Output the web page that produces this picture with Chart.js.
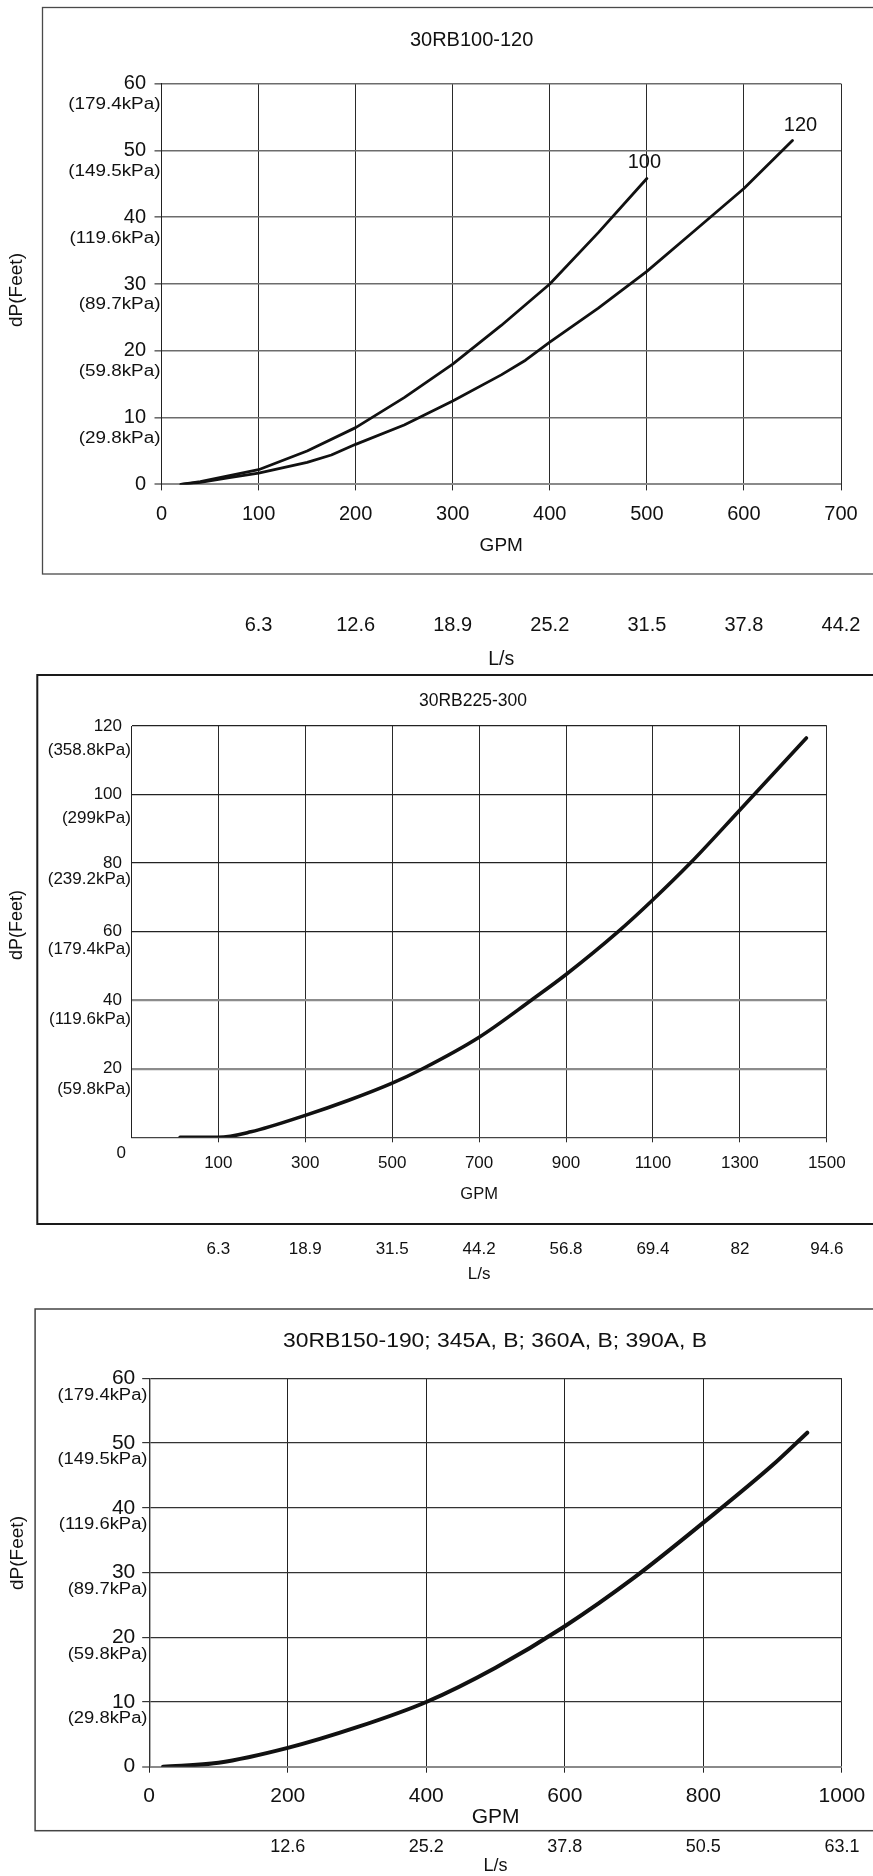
<!DOCTYPE html>
<html>
<head>
<meta charset="utf-8">
<script src="https://cdn.jsdelivr.net/npm/chart.js@4.4.1/dist/chart.umd.min.js"></script>
<style>
  html, body { margin: 0; padding: 0; background: #fff; }
  body { width: 873px; height: 1876px; position: relative; overflow: hidden; }
  canvas { position: absolute; left: 0; }
</style>
</head>
<body>
<canvas id="c1" width="873" height="675" style="top:0px"></canvas>
<canvas id="c2" width="873" height="630" style="top:660px"></canvas>
<canvas id="c3" width="873" height="586" style="top:1290px"></canvas>
<script>
// ---------- 30RB100-120 : pressure drop (ft) against flow (GPM) ----------
const gpm100 = [20, 40, 70, 100, 150, 200, 250, 300, 350, 400, 450, 500];
const dp100  = [0, 0.4, 1.3, 2.2, 5.0, 8.5, 13.0, 18.0, 23.8, 30.0, 37.7, 45.8];
const gpm120 = [20, 40, 70, 100, 150, 175, 200, 250, 300, 350, 375, 400, 450, 500, 550, 600, 650];
const dp120  = [0, 0.3, 1.0, 1.7, 3.3, 4.4, 6.0, 8.9, 12.5, 16.4, 18.6, 21.3, 26.4, 31.9, 38.1, 44.3, 51.5];
const gpmTicks1 = [0, 100, 200, 300, 400, 500, 600, 700];
const lsAt1     = [100, 200, 300, 400, 500, 600, 700];
const lsLabels1 = ['6.3', '12.6', '18.9', '25.2', '31.5', '37.8', '44.2'];
const ftTicks1  = [0, 10, 20, 30, 40, 50, 60];
const kpaLabels1 = ['', '(29.8kPa)', '(59.8kPa)', '(89.7kPa)', '(119.6kPa)', '(149.5kPa)', '(179.4kPa)'];

// ---------- 30RB225-300 ----------
const gpm225 = [12, 100, 175, 300, 400, 500, 570, 700, 820, 900, 1020, 1100, 1186, 1300, 1453];
const dp225  = [0, 0, 1.6, 6.4, 10.8, 15.8, 20, 29.2, 40, 47.5, 60, 69.3, 80, 95.5, 116.5];
const gpmTicks2 = [100, 300, 500, 700, 900, 1100, 1300, 1500];
const lsLabels2 = ['6.3', '18.9', '31.5', '44.2', '56.8', '69.4', '82', '94.6'];
const ftTicks2  = [0, 20, 40, 60, 80, 100, 120];
const kpaLabels2 = ['', '(59.8kPa)', '(119.6kPa)', '(179.4kPa)', '(239.2kPa)', '(299kPa)', '(358.8kPa)'];

// ---------- 30RB150-190; 345A, B; 360A, B; 390A, B ----------
const gpm150 = [20, 100, 200, 300, 400, 500, 600, 700, 800, 900, 950];
const dp150  = [0, 0.6, 2.9, 6.1, 10.0, 15.3, 21.7, 29.2, 37.7, 46.6, 51.6];
const gpmTicks3 = [0, 200, 400, 600, 800, 1000];
const lsAt3     = [200, 400, 600, 800, 1000];
const lsLabels3 = ['12.6', '25.2', '37.8', '50.5', '63.1'];
const ftTicks3  = [0, 10, 20, 30, 40, 50, 60];
const kpaLabels3 = ['', '(29.8kPa)', '(59.8kPa)', '(89.7kPa)', '(119.6kPa)', '(149.5kPa)', '(179.4kPa)'];

const FONT = "'Liberation Sans', Arial, Helvetica, sans-serif";
const INK = '#111';

// text helper: optional rotation and horizontal stretch
function putText(ctx, text, x, y, size, o = {}) {
  ctx.save();
  ctx.font = size + 'px ' + FONT;
  ctx.fillStyle = o.color || INK;
  ctx.textAlign = o.align || 'center';
  ctx.textBaseline = 'middle';
  ctx.translate(x, y);
  if (o.rotate) ctx.rotate(o.rotate);
  ctx.scale(o.sx || 1, 1);
  ctx.fillText(text, 0, 0);
  ctx.restore();
}

// frame, heading, axis caption, kPa sub-labels and curve names
const decor = {
  id: 'decor',
  afterDraw(chart, args, o) {
    const ctx = chart.ctx;
    const ys = chart.scales.y;
    const f = o.frame;
    ctx.save();
    ctx.strokeStyle = f.color;
    ctx.lineWidth = f.width;
    ctx.strokeRect(f.left, f.top, 1200, f.bottom - f.top);
    ctx.restore();

    putText(ctx, o.title.text, o.title.x, o.title.y, o.title.size, { sx: o.title.sx });
    putText(ctx, 'dP(Feet)', o.yTitle.x, o.yTitle.y, o.yTitle.size, { rotate: -Math.PI / 2 });

    const k = o.kpa;
    k.values.forEach((v, i) => {
      const t = k.labels[i];
      if (!t) return;
      const dy = Array.isArray(k.dy) ? k.dy[i] : k.dy;
      putText(ctx, t, ys.right + k.dx, ys.getPixelForValue(v) + dy, k.size, { align: 'right', sx: k.sx });
    });

    (o.valueNotes || []).forEach(n => {
      putText(ctx, n.text, ys.right + n.dx, ys.getPixelForValue(n.value) + n.dy, n.size, { align: 'right' });
    });

    (o.seriesNames || []).forEach(n => {
      const pts = chart.getDatasetMeta(n.dataset).data;
      const p = pts[pts.length - 1];
      putText(ctx, n.text, p.x + n.dx, p.y + n.dy, n.size);
    });
  }
};

// s.rows holds the vertical centres of the bottom texts, in canvas pixels
function build(id, s) {
  const canvas = document.getElementById(id);
  const W = canvas.width, H = canvas.height;
  const a = s.area, r = s.rows;
  const tickPad = 3, lsTickPad = 2;
  const gpmLH = s.gpmFont * 1.2;
  const lsTitleLH = s.lsTitleFont * (s.lsTitleLH || 1.2);
  const h1 = r.gpm + gpmLH / 2 + 1.5 - a.bottom;
  const h2 = H - s.padBottom - a.bottom - h1;
  const xLabelLH = 2 * (r.xLabels - a.bottom - s.xTickLen - tickPad);
  const lsLabelLH = 2 * (r.lsLabels - (a.bottom + h1) - lsTickPad);

  return new Chart(canvas, {
    type: 'line',
    data: {
      datasets: s.series.map(ser => ({
        data: ser.x.map((g, i) => ({ x: g, y: ser.y[i] })),
        borderColor: INK,
        borderWidth: s.lineWidth,
        pointRadius: 0,
        fill: false,
        tension: 0,
        cubicInterpolationMode: s.smooth ? 'monotone' : 'default',
        borderCapStyle: 'round',
        borderJoinStyle: 'round'
      }))
    },
    options: {
      responsive: false,
      animation: false,
      devicePixelRatio: 1,
      events: [],
      layout: {
        padding: { left: 0, top: a.top, right: W - a.right, bottom: s.padBottom }
      },
      plugins: {
        legend: { display: false },
        tooltip: { enabled: false },
        decor: s.decor
      },
      scales: {
        x: {
          type: 'linear', position: 'bottom', weight: 0,
          min: s.xMin, max: s.xMax,
          afterBuildTicks: sc => { sc.ticks = s.xTicks.map(v => ({ value: v })); },
          afterFit: sc => { sc.height = h1; },
          ticks: {
            callback: v => String(v),
            font: { family: FONT, size: s.xFont, lineHeight: xLabelLH + 'px' }, color: INK,
            padding: tickPad, maxRotation: 0, autoSkip: false
          },
          grid: {
            color: s.vGrid.color, lineWidth: s.vGrid.width,
            tickLength: s.xTickLen, drawTicks: s.xTickLen > 0
          },
          border: { display: false },
          title: {
            display: true, text: 'GPM', color: INK,
            font: { family: FONT, size: s.gpmFont, lineHeight: 1.2 },
            padding: { top: 0, bottom: a.bottom + h1 - gpmLH / 2 - r.gpm }
          }
        },
        ls: {
          type: 'linear', position: 'bottom', weight: 1,
          min: s.xMin, max: s.xMax,
          afterBuildTicks: sc => { sc.ticks = s.lsAt.map(v => ({ value: v })); },
          afterFit: sc => { sc.height = h2; },
          ticks: {
            callback: (v, i) => s.lsLabels[i],
            font: { family: FONT, size: s.lsFont, lineHeight: lsLabelLH + 'px' }, color: INK,
            padding: lsTickPad, maxRotation: 0, autoSkip: false
          },
          grid: { display: false, drawTicks: false },
          border: { display: false },
          title: {
            display: true, text: 'L/s', color: INK,
            font: { family: FONT, size: s.lsTitleFont, lineHeight: s.lsTitleLH || 1.2 },
            padding: { top: 0, bottom: a.bottom + h1 + h2 - lsTitleLH / 2 - r.lsTitle }
          }
        },
        y: {
          type: 'linear', position: 'left',
          min: s.yMin, max: s.yMax,
          afterBuildTicks: sc => { sc.ticks = s.yTicks.map(v => ({ value: v })); },
          afterFit: sc => { sc.width = a.left; },
          ticks: {
            callback: v => (s.hideZero && v === 0) ? '' : String(v),
            font: { family: FONT, size: s.yFont }, color: INK,
            padding: s.yPad
          },
          grid: {
            color: c => s.hGrid(c.tick.value).color,
            lineWidth: c => s.hGrid(c.tick.value).width,
            tickLength: s.yTickLen, drawTicks: s.yTickLen > 0
          },
          border: { display: true, color: s.axisColor, width: s.axisWidth }
        }
      }
    },
    plugins: [decor]
  });
}

// 30RB100-120
build('c1', {
  series: [{ x: gpm100, y: dp100 }, { x: gpm120, y: dp120 }],
  lineWidth: 2.8, smooth: false,
  area: { left: 161.5, top: 83.7, right: 841, bottom: 484.4 },
  rows: { xLabels: 514.2, gpm: 546, lsLabels: 625.5, lsTitle: 660 },
  padBottom: 1,
  xMin: 0, xMax: 700, xTicks: gpmTicks1, xFont: 20, xTickLen: 6,
  gpmFont: 19,
  lsAt: lsAt1, lsLabels: lsLabels1, lsFont: 20, lsTitleFont: 19.5,
  yMin: 0, yMax: 60, yTicks: ftTicks1, yFont: 20, yPad: 8.5, yTickLen: 7,
  vGrid: { color: '#2a2a2a', width: 1 },
  hGrid: v => v === 0 ? { color: '#8a8a8a', width: 2 } : { color: '#6c6c6c', width: 1.6 },
  axisColor: '#222', axisWidth: 1,
  decor: {
    frame: { left: 42.5, top: 7.5, bottom: 574, color: '#4a4a4a', width: 1.3 },
    title: { text: '30RB100-120', x: 471.6, y: 40, size: 20, sx: 1 },
    yTitle: { x: 16.5, y: 290, size: 19 },
    kpa: { values: ftTicks1, labels: kpaLabels1, dx: -1, dy: 21, size: 16, sx: 1.18 },
    seriesNames: [
      { dataset: 0, text: '100', dx: -2.5, dy: -16, size: 20 },
      { dataset: 1, text: '120', dx: 8, dy: -14.7, size: 20 }
    ]
  }
});

// 30RB225-300
build('c2', {
  series: [{ x: gpm225, y: dp225 }],
  lineWidth: 3.6, smooth: true,
  area: { left: 131.4, top: 66, right: 826.8, bottom: 477.3 },
  rows: { xLabels: 503.3, gpm: 534.5, lsLabels: 589.3, lsTitle: 614 },
  padBottom: 1,
  xMin: -100, xMax: 1500, xTicks: gpmTicks2, xFont: 17, xTickLen: 5,
  gpmFont: 16.5,
  lsAt: gpmTicks2, lsLabels: lsLabels2, lsFont: 17, lsTitleFont: 17,
  yMin: 0, yMax: 120, yTicks: ftTicks2, yFont: 17, yPad: 9.4, yTickLen: 0, hideZero: true,
  vGrid: { color: '#2a2a2a', width: 1 },
  hGrid: v => v === 0 ? { color: '#444', width: 1.2 }
             : (v <= 40 ? { color: '#8c8c8c', width: 2.2 } : { color: '#222', width: 1.3 }),
  axisColor: '#222', axisWidth: 1,
  decor: {
    frame: { left: 37.3, top: 15, bottom: 564, color: '#1a1a1a', width: 2 },
    title: { text: '30RB225-300', x: 473, y: 40.7, size: 17.5, sx: 1 },
    yTitle: { x: 16.7, y: 265, size: 18 },
    kpa: { values: ftTicks2, labels: kpaLabels2, dx: -0.5, dy: [0, 21, 19, 18, 16, 24, 24], size: 17, sx: 1 },
    valueNotes: [{ text: '0', value: 0, dx: -5.5, dy: 16, size: 17 }]
  }
});

// 30RB150-190; 345A, B; 360A, B; 390A, B
build('c3', {
  series: [{ x: gpm150, y: dp150 }],
  lineWidth: 4, smooth: true,
  area: { left: 149.2, top: 88.3, right: 841.9, bottom: 476.7 },
  rows: { xLabels: 506.7, gpm: 527.3, lsLabels: 556.7, lsTitle: 576 },
  padBottom: 0.5,
  xMin: 0, xMax: 1000, xTicks: gpmTicks3, xFont: 21, xTickLen: 6,
  gpmFont: 21,
  lsAt: lsAt3, lsLabels: lsLabels3, lsFont: 18, lsTitleFont: 18, lsTitleLH: 1.0,
  yMin: 0, yMax: 60, yTicks: ftTicks3, yFont: 21, yPad: 6.9, yTickLen: 7,
  vGrid: { color: '#222', width: 1 },
  hGrid: v => v === 0 ? { color: '#8a8a8a', width: 2 } : { color: '#333', width: 1.2 },
  axisColor: '#333', axisWidth: 1.4,
  decor: {
    frame: { left: 35.1, top: 19, bottom: 540.7, color: '#444', width: 1.5 },
    title: { text: '30RB150-190; 345A, B; 360A, B; 390A, B', x: 495, y: 51.7, size: 20, sx: 1.145 },
    yTitle: { x: 18, y: 263, size: 19 },
    kpa: { values: ftTicks3, labels: kpaLabels3, dx: -1.7, dy: 17, size: 16, sx: 1.15 }
  }
});
</script>
</body>
</html>
